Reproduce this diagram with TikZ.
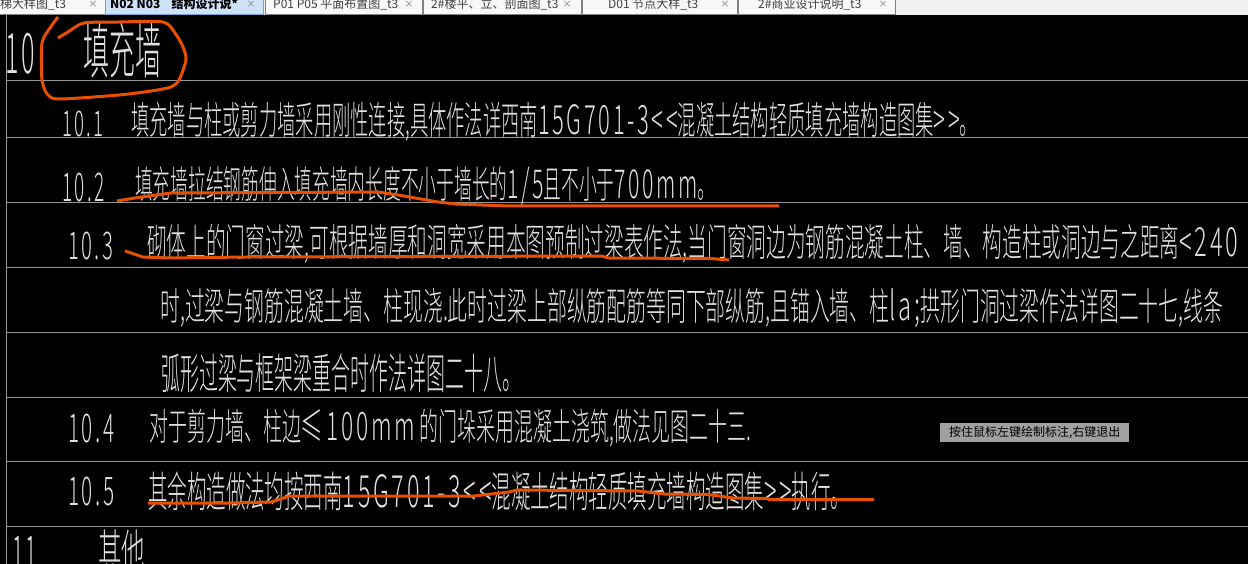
\documentclass[tikz,border=0pt]{standalone}
\usepackage{graphicx}
\usepackage{fontspec}
\IfFontExistsTF{Noto Sans CJK SC Light}{\newfontfamily\cadfont{Noto Sans CJK SC Light}\newfontfamily\cadspaced[LetterSpace=12]{Noto Sans CJK SC Light}}{\newfontfamily\cadfont{Noto Sans CJK SC}\newfontfamily\cadspaced[LetterSpace=12]{Noto Sans CJK SC}}
\newfontfamily\uifont{Noto Sans CJK SC}
\usetikzlibrary{positioning}
\definecolor{cadrule}{RGB}{150,150,150}
\definecolor{cadmark}{RGB}{232,80,0}
\definecolor{cadband}{RGB}{240,240,240}
\definecolor{cadtab}{RGB}{248,248,248}
\definecolor{cadedge}{RGB}{130,130,130}
\definecolor{cadactive}{RGB}{205,225,247}
\definecolor{cadblue}{RGB}{120,160,210}
\definecolor{cadtip}{RGB}{160,160,160}
\tikzstyle{cadtext} = [inner sep=0pt,anchor=south west,text=white!88!black]
\tikzstyle{tablabel} = [inner sep=0pt,anchor=base west,text=black!75,font=\uifont\fontsize{12}{12}\selectfont]
\tikzstyle{tabclose} = [inner sep=0pt,anchor=base,text=black!55,font=\uifont\fontsize{9}{9}\selectfont]
\tikzstyle{tabbox} = [draw=cadedge,fill=cadtab,line width=1pt]
\tikzstyle{markup} = [draw=cadmark,line width=3pt]
\newcommand{\cadfit}[3]{\resizebox*{#1pt}{#2pt}{\cadfont #3}}
\newcommand{\lat}[1]{\scalebox{1.2}[1.05]{\cadspaced #1}}
\begin{document}
\begin{tikzpicture}[x=1pt,y=-1pt]
\useasboundingbox (0,0) rectangle (1248,564);
\fill[black] (0,0) rectangle (1248,564);

% Tab band
\fill[cadband] (0,0) rectangle (1248,15);
\draw[tabbox] (-2,-2) rectangle (105.5,15);
\draw[draw=cadblue,fill=cadactive,line width=1pt] (105.5,-2) rectangle (263.5,15);
\draw[tabbox] (265,-2) rectangle (422,15);
\draw[tabbox] (423,-2) rectangle (581,15);
\draw[tabbox] (582,-2) rectangle (737,15);
\draw[tabbox] (738,-2) rectangle (895,15);
\node[tablabel] (tabstair) at (0,9) {梯大样图\_t3};
\node[tablabel,font=\uifont\bfseries\fontsize{12}{12}\selectfont,text=black] (tabnotes) at (110,9) {N02 N03 \ \ \ 结构设计说*};
\node[tablabel] (tabplan) at (273,9) {P01 P05 平面布置图\_t3};
\node[tablabel] (tabsection) at (431,9) {2\#楼平、立、剖面图\_t3};
\node[tablabel] (tabdetail) at (608,9) {D01 节点大样\_t3};
\node[tablabel] (tabshop) at (758,9) {2\#商业设计说明\_t3};
\foreach \x in {93,251,409,567,725,883}
  \node[tabclose] at (\x,8) {×};

% Table rules
\draw[cadrule,line width=1pt] (6,15) -- (6,564);
\foreach \y in {80,137,202,267,332,397,461,526}
  \draw[cadrule,line width=0.8pt] (6,\y) -- (1248,\y);

% Section 10
\node[cadtext] (num10) at (5,74) {\cadfit{30}{41}{\lat{10}}};
\node[cadtext] (title10) at (83,78) {\cadfit{78}{55}{填充墙}};

% Clause numbers
\node[cadtext] (num101) at (62,137) {\cadfit{41}{26}{\lat{10.1}}};
\node[cadtext] (num102) at (62,202) {\cadfit{42}{29}{\lat{10.2}}};
\node[cadtext] (num103) at (68,260) {\cadfit{45}{28}{\lat{10.3}}};
\node[cadtext] (num104) at (68,443) {\cadfit{46}{29}{\lat{10.4}}};
\node[cadtext] (num105) at (68,506) {\cadfit{46}{29}{\lat{10.5}}};
\node[cadtext] (num11) at (12,572) {\cadfit{25}{35}{\lat{11}}};

% Clause texts
\node[cadtext] (text101) at (131,141) {\cadfit{847}{39}{填充墙与柱或剪力墙采用刚性连接,具体作法详西南\lat{15G701-3<<}混凝土结构轻质填充墙构造图集\lat{>>}。}};
\node[cadtext] (text102) at (135,206) {\cadfit{580}{39}{填充墙拉结钢筋伸入填充墙内长度不小于墙长的\lat{1/5}且不小于\lat{700mm}。}};
\node[cadtext] (text103) at (147,263) {\cadfit{1091}{39}{砌体上的门窗过梁,可根据墙厚和洞宽采用本图预制过梁表作法,当门窗洞边为钢筋混凝土柱、墙、构造柱或洞边与之距离\lat{<240}}};
\node[cadtext] (text103b) at (160,328) {\cadfit{1063}{39}{时,过梁与钢筋混凝土墙、柱现浇.此时过梁上部纵筋配筋等同下部纵筋,且锚入墙、柱\lat{la;}拱形门洞过梁作法详图二十七,线条}};
\node[cadtext] (text103c) at (161,393) {\cadfit{360}{39}{弧形过梁与框架梁重合时作法详图二十八。}};
\node[cadtext] (text104) at (149,447) {\cadfit{602}{38}{对于剪力墙、柱边\lat{≤100mm} 的门垛采用混凝土浇筑,做法见图二十三.}};
\node[cadtext] (text105) at (148,511) {\cadfit{702}{39}{其余构造做法均按西南\lat{15G701-3<<}混凝土结构轻质填充墙构造图集\lat{>>}执行。}};
\node[cadtext] (title11) at (98,572) {\cadfit{47}{42}{其他}};

% Hint box
\node[fill=cadtip,inner sep=0pt,minimum width=189pt,minimum height=19pt,anchor=north west,text=black,font=\uifont\fontsize{12}{13}\selectfont] (hint) at (940,423) {按住鼠标左键绘制标注,右键退出};

% Hand marks
\draw[markup] plot[smooth,tension=0.45] coordinates {(58,38) (68,32) (84,23) (119,22) (163,22) (175,33) (183,47) (186,60) (179,80) (171,87) (151,91) (119,95) (60,99) (48,95) (42,80) (42,43) (50,28) (58,17)};
\draw[markup] (117,201) -- (135,198) -- (171,193) -- (378,192) -- (398,195) -- (438,202) -- (456,204) -- (509,206) -- (779,206);
\draw[markup] (125,251) -- (143,257) -- (167,258) -- (247,257) -- (601,256) -- (609,258) -- (710,258.5) -- (729,260);
\draw[markup] (148,503) -- (231,503) -- (271,502) -- (290,496) -- (474,496) -- (509,492) -- (517,490) -- (638,491) -- (664,494) -- (708,494.5) -- (733,498) -- (767,498.5) -- (769,499.5) -- (874,499.5);
\end{tikzpicture}
\end{document}
